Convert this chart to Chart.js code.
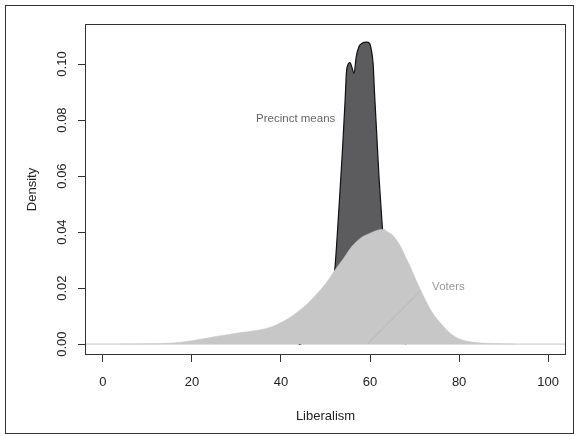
<!DOCTYPE html>
<html>
<head>
<meta charset="utf-8">
<script src="https://cdn.jsdelivr.net/npm/chart.js@4"></script>
<style>
  body { margin: 0; background: #fff; }
  canvas { display: block; }
</style>
</head>
<body>
<canvas id="densityChart" width="579" height="436"></canvas>
<script>
// values
const precinctX = [44, 46, 48, 50, 51, 52, 53, 53.8, 54.4, 54.7, 55.1, 55.5, 55.9, 56.4, 56.9, 57.5, 58.2, 59.2, 59.9, 60.3, 60.7, 61.0, 61.5, 62.0, 62.8, 63.5, 64.5, 66, 68];
const precinctY = [0, 0.001, 0.004, 0.010, 0.016, 0.025, 0.048, 0.069, 0.087, 0.097, 0.1, 0.1005, 0.099, 0.0967, 0.1026, 0.1062, 0.1074, 0.1078, 0.1074, 0.105, 0.100, 0.090, 0.075, 0.060, 0.041, 0.025, 0.012, 0.004, 0];

const votersX = [3.8, 10, 15, 20, 25, 30, 35, 38, 40, 42, 44, 46, 48, 50, 52, 54, 56, 58, 60, 62, 63, 64, 65, 66, 67, 68, 69, 70, 71, 72, 73, 74, 76, 78, 80, 83, 87, 92.5];
const votersY = [0, 0.0001, 0.0003, 0.0012, 0.0026, 0.0039, 0.0050, 0.0062, 0.0077, 0.0095, 0.0118, 0.0145, 0.0178, 0.0215, 0.0262, 0.0305, 0.035, 0.038, 0.0396, 0.0408, 0.0410, 0.0400, 0.039, 0.037, 0.0345, 0.031, 0.0278, 0.024, 0.0205, 0.0172, 0.014, 0.0112, 0.0072, 0.0039, 0.0019, 0.0007, 0.0002, 0];

const pointerX = [59.5, 71.5];
const pointerY = [0.0002, 0.0193];

const xTicks = [0, 20, 40, 60, 80, 100];
const yTicks = [0, 0.02, 0.04, 0.06, 0.08, 0.10];

const labels = [
    { text: 'Precinct means', x: 43.3, y: 0.0804, color: '#666' },
    { text: 'Voters', x: 77.6, y: 0.0205, color: '#999' }
];

const toPoints = (xs, ys) => xs.map((x, i) => ({ x: x, y: ys[i] }));
const font = 'Liberation Sans, Arial, Helvetica, sans-serif';

// box round the plot, frame round the figure, text labels
const framePlugin = {
    id: 'frame',
    beforeDatasetsDraw(chart) {
        const ctx = chart.ctx;
        const y0 = chart.scales.y.getPixelForValue(0);
        ctx.save();
        ctx.strokeStyle = '#c4c4c4';
        ctx.lineWidth = 1;
        ctx.beginPath();
        ctx.moveTo(chart.chartArea.left, y0);
        ctx.lineTo(chart.chartArea.right, y0);
        ctx.stroke();
        ctx.restore();
    },
    afterDraw(chart) {
        const { ctx, chartArea, scales } = chart;
        ctx.save();
        ctx.strokeStyle = '#333';
        ctx.lineWidth = 1;
        ctx.strokeRect(chartArea.left + 0.5, chartArea.top + 0.5, chartArea.width - 1, chartArea.height - 1);
        ctx.strokeRect(5.5, 5.5, 568, 428);
        ctx.font = '11.5px ' + font;
        ctx.textAlign = 'center';
        ctx.textBaseline = 'middle';
        labels.forEach(l => {
            ctx.fillStyle = l.color;
            ctx.fillText(l.text, scales.x.getPixelForValue(l.x), scales.y.getPixelForValue(l.y));
        });
        ctx.restore();
    }
};

new Chart(document.getElementById('densityChart'), {
    type: 'line',
    data: {
        datasets: [
            {
                data: toPoints(pointerX, pointerY),
                borderColor: '#a9a9a9',
                borderWidth: 0.6,
                pointRadius: 0,
                fill: false
            },
            {
                data: toPoints(votersX, votersY),
                borderColor: '#c7c7c8',
                backgroundColor: '#c7c7c8',
                borderWidth: 0.5,
                pointRadius: 0,
                cubicInterpolationMode: 'monotone',
                fill: 'origin'
            },
            {
                data: toPoints(precinctX, precinctY),
                borderColor: '#111',
                backgroundColor: '#5c5c5e',
                borderWidth: 1.2,
                pointRadius: 0,
                cubicInterpolationMode: 'monotone',
                fill: 'origin'
            }
        ]
    },
    options: {
        responsive: false,
        animation: false,
        devicePixelRatio: 1,
        layout: { padding: { top: 24, right: 13, left: 0, bottom: 0 } },
        plugins: { legend: { display: false }, tooltip: { enabled: false } },
        scales: {
            x: {
                type: 'linear',
                min: -4,
                max: 104,
                afterBuildTicks: s => { s.ticks = xTicks.map(v => ({ value: v })); },
                afterFit: s => { s.height = 81; },
                grid: { drawOnChartArea: false, drawTicks: true, tickLength: 7, color: '#333' },
                border: { display: false },
                ticks: { color: '#222', font: { family: font, size: 13 }, padding: 13, maxRotation: 0 },
                title: { display: true, text: 'Liberalism', color: '#222', font: { family: font, size: 13 }, padding: { top: 0, bottom: 12 } }
            },
            y: {
                type: 'linear',
                min: -0.0039,
                max: 0.1143,
                afterBuildTicks: s => { s.ticks = yTicks.map(v => ({ value: v })); },
                afterFit: s => { s.width = 85; },
                grid: { drawOnChartArea: false, drawTicks: true, tickLength: 7, color: '#333' },
                border: { display: false },
                ticks: {
                    color: '#222', font: { family: font, size: 13 }, padding: 3,
                    minRotation: 90, maxRotation: 90, crossAlign: 'center',
                    callback: v => v.toFixed(2)
                },
                title: { display: true, text: 'Density', color: '#222', font: { family: font, size: 13 }, padding: { top: 25, bottom: 0 } }
            }
        }
    },
    plugins: [framePlugin]
});
</script>
</body>
</html>
